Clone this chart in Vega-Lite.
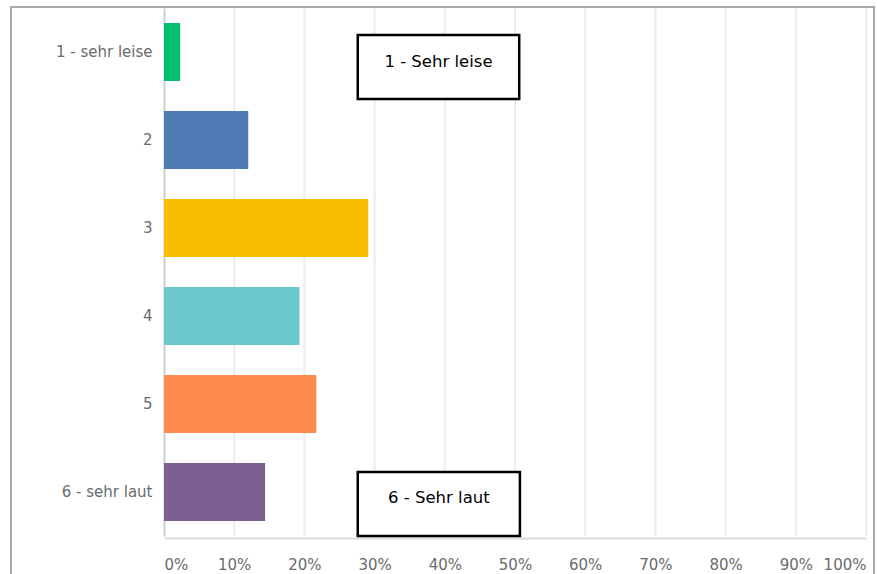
{
  "$schema": "https://vega.github.io/schema/vega-lite/v6.json",
  "autosize": "none",
  "padding": {"left": 11, "top": 7, "right": 3, "bottom": -2},
  "width": 863,
  "height": 569,
  "background": "white",
  "config": {
    "view": {"stroke": "#a9a9a9", "strokeWidth": 2},
    "font": "DejaVu Sans"
  },
  "resolve": {"scale": {"y": "independent"}},
  "layer": [
    {
      "data": {"values": [
        {"v": 10}, {"v": 20}, {"v": 30}, {"v": 40}, {"v": 50},
        {"v": 60}, {"v": 70}, {"v": 80}, {"v": 90}, {"v": 100}
      ]},
      "mark": {"type": "rule", "color": "#ececec", "strokeWidth": 2},
      "encoding": {
        "x": {
          "field": "v", "type": "quantitative",
          "scale": {"domain": [0, 100], "range": [153, 855], "nice": false, "zero": true},
          "axis": {
            "title": null, "orient": "bottom", "values": [0, 10, 20, 30, 40, 50, 60, 70, 80, 90, 100],
            "labelExpr": "datum.value + '%'", "offset": -38, "ticks": false,
            "labelPadding": 19, "labelFontSize": 15, "labelColor": "#6b6b6b", "labelFlush": true,
            "domainColor": "#dcdcdc", "domainWidth": 2, "grid": false
          }
        },
        "y": {"datum": 0, "type": "quantitative", "scale": {"domain": [0, 1], "range": [1, 529]}, "axis": null},
        "y2": {"datum": 1}
      }
    },
    {
      "layer": [
        {
          "data": {"values": [
            {"cat": "1 - sehr leise", "pct": 2.3},
            {"cat": "2", "pct": 12.0},
            {"cat": "3", "pct": 29.1},
            {"cat": "4", "pct": 19.3},
            {"cat": "5", "pct": 21.7},
            {"cat": "6 - sehr laut", "pct": 14.4}
          ]},
          "mark": {"type": "bar"},
          "encoding": {
            "x": {"field": "pct", "type": "quantitative"},
            "y": {
              "field": "cat", "type": "nominal",
              "scale": {"domain": ["1 - sehr leise", "2", "3", "4", "5", "6 - sehr laut"], "range": [1, 529], "paddingInner": 0.34, "paddingOuter": 0.17},
              "axis": {
                "title": null, "offset": -153, "ticks": false, "labelPadding": 12,
                "labelFontSize": 15, "labelColor": "#6b6b6b",
                "domainColor": "#d0d0d0", "domainWidth": 2, "grid": false
              }
            },
            "color": {
              "field": "cat", "type": "nominal", "legend": null,
              "scale": {"domain": ["1 - sehr leise", "2", "3", "4", "5", "6 - sehr laut"], "range": ["#00bf6f", "#507cb6", "#f9be00", "#6bc8cd", "#ff8b4f", "#7d5e90"]}
            }
          }
        },
        {
          "data": {"values": [
            {"cat": "1 - sehr leise", "label": "1 - Sehr leise", "x1": 27.6, "x2": 50.6}
          ]},
          "mark": {"type": "bar", "height": 64, "yOffset": 15, "fill": "white", "stroke": "black", "strokeWidth": 2.5},
          "encoding": {
            "x": {"field": "x1", "type": "quantitative"},
            "x2": {"field": "x2"},
            "y": {"field": "cat", "type": "nominal"}
          }
        },
        {
          "data": {"values": [
            {"cat": "6 - sehr laut", "label": "6 - Sehr laut", "x1": 27.6, "x2": 50.7}
          ]},
          "mark": {"type": "bar", "height": 64, "yOffset": 12, "fill": "white", "stroke": "black", "strokeWidth": 2.5},
          "encoding": {
            "x": {"field": "x1", "type": "quantitative"},
            "x2": {"field": "x2"},
            "y": {"field": "cat", "type": "nominal"}
          }
        },
        {
          "data": {"values": [
            {"cat": "1 - sehr leise", "label": "1 - Sehr leise", "x1": 27.6, "x2": 50.6}
          ]},
          "transform": [{"calculate": "(datum.x1 + datum.x2) / 2", "as": "mid"}],
          "mark": {"type": "text", "yOffset": 10, "fontSize": 16.5, "color": "black", "align": "center", "baseline": "middle"},
          "encoding": {
            "x": {"field": "mid", "type": "quantitative"},
            "y": {"field": "cat", "type": "nominal"},
            "text": {"field": "label"}
          }
        },
        {
          "data": {"values": [
            {"cat": "6 - sehr laut", "label": "6 - Sehr laut", "x1": 27.6, "x2": 50.7}
          ]},
          "transform": [{"calculate": "(datum.x1 + datum.x2) / 2", "as": "mid"}],
          "mark": {"type": "text", "yOffset": 5.5, "fontSize": 16.5, "color": "black", "align": "center", "baseline": "middle"},
          "encoding": {
            "x": {"field": "mid", "type": "quantitative"},
            "y": {"field": "cat", "type": "nominal"},
            "text": {"field": "label"}
          }
        }
      ]
    }
  ]
}
